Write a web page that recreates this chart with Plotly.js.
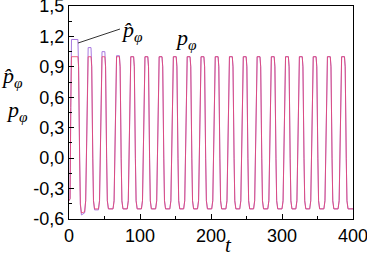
<!DOCTYPE html>
<html>
<head>
<meta charset="utf-8">
<script src="https://cdn.plot.ly/plotly-3.0.1.min.js"></script>
<style>html,body{margin:0;padding:0;background:#fff;}#chart{width:367px;height:256px;}</style>
</head>
<body>
<div id="chart"></div>
<script>
// time samples (shared by both series)
const t = [
  0, 1.5, 2.5, 3.5, 12.5, 13.5, 15, 16, 17.5,
  22, 23.5, 24.5, 26, 27, 31, 32, 33.5, 34.5, 36,
  41.5, 43, 44, 45.5, 46.5, 50.5, 51.5, 53, 54, 55.5,
  62, 63.5, 64.5, 66, 67, 71, 72, 73.5, 74.5, 76,
  82, 83.5, 84.5, 86, 87, 91, 92, 93.5, 94.5, 96,
  102, 103.5, 104.5, 106, 107, 111, 112, 113.5, 114.5, 116,
  122, 123.5, 124.5, 126, 127, 131, 132, 133.5, 134.5, 136,
  142, 143.5, 144.5, 146, 147, 151, 152, 153.5, 154.5, 156,
  161.5, 163, 164, 165.5, 166.5, 170.5, 171.5, 173, 174, 175.5,
  181, 182.5, 183.5, 185, 186, 190, 191, 192.5, 193.5, 195,
  201, 202.5, 203.5, 205, 206, 210, 211, 212.5, 213.5, 215,
  221, 222.5, 223.5, 225, 226, 230, 231, 232.5, 233.5, 235,
  240.5, 242, 243, 244.5, 245.5, 249.5, 250.5, 252, 253, 254.5,
  260, 261.5, 262.5, 264, 265, 269, 270, 271.5, 272.5, 274,
  280, 281.5, 282.5, 284, 285, 289, 290, 291.5, 292.5, 294,
  300, 301.5, 302.5, 304, 305, 309, 310, 311.5, 312.5, 314,
  319.5, 321, 322, 323.5, 324.5, 328.5, 329.5, 331, 332, 333.5,
  339, 340.5, 341.5, 343, 344, 348, 349, 350.5, 351.5, 353,
  359, 360.5, 361.5, 363, 364, 368, 369, 370.5, 371.5, 373,
  379, 380.5, 381.5, 383, 384, 388, 389, 390.5, 391.5, 393,
  400
];
// p_phi
const p = [
  -0.42, -0.40, 0.5, 1.0, 1.0, 0.9, 0.0, -0.45, -0.54,
  -0.53, -0.42, 0.0, 0.9, 1.0, 1.0, 0.9, 0.0, -0.42, -0.5,
  -0.5, -0.42, 0.0, 0.9, 1.0, 1.0, 0.9, 0.0, -0.42, -0.5,
  -0.5, -0.42, 0.0, 0.9, 1.0, 1.0, 0.9, 0.0, -0.42, -0.5,
  -0.5, -0.42, 0.0, 0.9, 1.0, 1.0, 0.9, 0.0, -0.42, -0.5,
  -0.5, -0.42, 0.0, 0.9, 1.0, 1.0, 0.9, 0.0, -0.42, -0.5,
  -0.5, -0.42, 0.0, 0.9, 1.0, 1.0, 0.9, 0.0, -0.42, -0.5,
  -0.5, -0.42, 0.0, 0.9, 1.0, 1.0, 0.9, 0.0, -0.42, -0.5,
  -0.5, -0.42, 0.0, 0.9, 1.0, 1.0, 0.9, 0.0, -0.42, -0.5,
  -0.5, -0.42, 0.0, 0.9, 1.0, 1.0, 0.9, 0.0, -0.42, -0.5,
  -0.5, -0.42, 0.0, 0.9, 1.0, 1.0, 0.9, 0.0, -0.42, -0.5,
  -0.5, -0.42, 0.0, 0.9, 1.0, 1.0, 0.9, 0.0, -0.42, -0.5,
  -0.5, -0.42, 0.0, 0.9, 1.0, 1.0, 0.9, 0.0, -0.42, -0.5,
  -0.5, -0.42, 0.0, 0.9, 1.0, 1.0, 0.9, 0.0, -0.42, -0.5,
  -0.5, -0.42, 0.0, 0.9, 1.0, 1.0, 0.9, 0.0, -0.42, -0.5,
  -0.5, -0.42, 0.0, 0.9, 1.0, 1.0, 0.9, 0.0, -0.42, -0.5,
  -0.5, -0.42, 0.0, 0.9, 1.0, 1.0, 0.9, 0.0, -0.42, -0.5,
  -0.5, -0.42, 0.0, 0.9, 1.0, 1.0, 0.9, 0.0, -0.42, -0.5,
  -0.5, -0.42, 0.0, 0.9, 1.0, 1.0, 0.9, 0.0, -0.42, -0.5,
  -0.5, -0.42, 0.0, 0.9, 1.0, 1.0, 0.9, 0.0, -0.42, -0.5,
  -0.5
];
// p-hat_phi (overshoots in the first periods)
const pHat = [
  -0.42, -0.40, 0.5, 1.17, 1.17, 0.9, 0.0, -0.46, -0.56,
  -0.54, -0.42, 0.0, 0.9, 1.09, 1.09, 0.9, 0.0, -0.42, -0.51,
  -0.51, -0.42, 0.0, 0.9, 1.05, 1.05, 0.9, 0.0, -0.42, -0.5,
  -0.5, -0.42, 0.0, 0.9, 1.01, 1.01, 0.9, 0.0, -0.42, -0.5,
  -0.5, -0.42, 0.0, 0.9, 1.0, 1.0, 0.9, 0.0, -0.42, -0.5,
  -0.5, -0.42, 0.0, 0.9, 1.0, 1.0, 0.9, 0.0, -0.42, -0.5,
  -0.5, -0.42, 0.0, 0.9, 1.0, 1.0, 0.9, 0.0, -0.42, -0.5,
  -0.5, -0.42, 0.0, 0.9, 1.0, 1.0, 0.9, 0.0, -0.42, -0.5,
  -0.5, -0.42, 0.0, 0.9, 1.0, 1.0, 0.9, 0.0, -0.42, -0.5,
  -0.5, -0.42, 0.0, 0.9, 1.0, 1.0, 0.9, 0.0, -0.42, -0.5,
  -0.5, -0.42, 0.0, 0.9, 1.0, 1.0, 0.9, 0.0, -0.42, -0.5,
  -0.5, -0.42, 0.0, 0.9, 1.0, 1.0, 0.9, 0.0, -0.42, -0.5,
  -0.5, -0.42, 0.0, 0.9, 1.0, 1.0, 0.9, 0.0, -0.42, -0.5,
  -0.5, -0.42, 0.0, 0.9, 1.0, 1.0, 0.9, 0.0, -0.42, -0.5,
  -0.5, -0.42, 0.0, 0.9, 1.0, 1.0, 0.9, 0.0, -0.42, -0.5,
  -0.5, -0.42, 0.0, 0.9, 1.0, 1.0, 0.9, 0.0, -0.42, -0.5,
  -0.5, -0.42, 0.0, 0.9, 1.0, 1.0, 0.9, 0.0, -0.42, -0.5,
  -0.5, -0.42, 0.0, 0.9, 1.0, 1.0, 0.9, 0.0, -0.42, -0.5,
  -0.5, -0.42, 0.0, 0.9, 1.0, 1.0, 0.9, 0.0, -0.42, -0.5,
  -0.5, -0.42, 0.0, 0.9, 1.0, 1.0, 0.9, 0.0, -0.42, -0.5,
  -0.5
];
const yTickVals = [-0.6, -0.3, 0.0, 0.3, 0.6, 0.9, 1.2, 1.5];
const yTickText = ['-0,6', '-0,3', '0,0', '0,3', '0,6', '0,9', '1,2', '1,5'];
const xTickVals = [0, 100, 200, 300, 400];
const xTickText = ['0', '100', '200', '300', '400'];

const tickFont = {family: 'Arial, "Liberation Sans", sans-serif', size: 18, color: '#000'};
const serif = {family: '"Times New Roman", "Liberation Serif", serif', size: 22, color: '#000'};

const traces = [
  {x: t, y: pHat, type: 'scatter', mode: 'lines', name: 'p̂φ',
   line: {color: '#a878e0', width: 1}},
  {x: t, y: p, type: 'scatter', mode: 'lines', name: 'pφ',
   line: {color: '#e8406a', width: 1}, opacity: 0.8}
];

const layout = {
  width: 367, height: 256,
  margin: {l: 69, r: 14, t: 6, b: 37},
  paper_bgcolor: '#fff', plot_bgcolor: '#fff',
  showlegend: false,
  xaxis: {
    range: [0, 400], tickmode: 'array', tickvals: xTickVals, ticktext: xTickText,
    ticklabeloverflow: 'allow',
    ticks: 'inside', ticklen: 5, tickwidth: 1, tickcolor: '#000',
    minor: {ticks: 'inside', ticklen: 3, dtick: 50, tick0: 0, tickcolor: '#000'},
    showline: true, linecolor: '#000', linewidth: 1, mirror: true,
    showgrid: false, zeroline: false, tickfont: tickFont
  },
  yaxis: {
    range: [-0.6, 1.5], tickmode: 'array', tickvals: yTickVals, ticktext: yTickText,
    ticklabeloverflow: 'allow',
    ticks: 'inside', ticklen: 5, tickwidth: 1, tickcolor: '#000',
    minor: {ticks: 'inside', ticklen: 3, dtick: 0.15, tick0: 0, tickcolor: '#000'},
    showline: true, linecolor: '#000', linewidth: 1, mirror: true,
    showgrid: false, zeroline: false, tickfont: tickFont
  },
  shapes: [
    {type: 'line', xref: 'x', yref: 'y', x0: 12.7, y0: 1.135, x1: 71.8, y1: 1.273,
     line: {color: '#333', width: 1}}
  ],
  annotations: [
    {xref: 'x', yref: 'y', x: 71, y: 1.25, xanchor: 'left', yanchor: 'middle',
     text: '<i>p̂</i><sub><i>φ</i></sub>', showarrow: false, font: serif},
    {xref: 'x', yref: 'y', x: 146, y: 1.17, xanchor: 'left', yanchor: 'middle',
     text: '<i>p</i><sub><i>φ</i></sub>', showarrow: false, font: serif},
    {xref: 'paper', yref: 'paper', x: -0.245, y: 0.665, xanchor: 'left', yanchor: 'middle',
     text: '<i>p̂</i><sub><i>φ</i></sub>', showarrow: false, font: serif},
    {xref: 'paper', yref: 'paper', x: -0.228, y: 0.505, xanchor: 'left', yanchor: 'middle',
     text: '<i>p</i><sub><i>φ</i></sub>', showarrow: false, font: serif},
    {xref: 'x', yref: 'paper', x: 225, y: -0.12, xanchor: 'center', yanchor: 'middle',
     text: '<i>t</i>', showarrow: false, font: {family: serif.family, size: 21, color: '#000'}}
  ]
};

Plotly.newPlot('chart', traces, layout, {displayModeBar: false, staticPlot: true});
</script>
</body>
</html>
